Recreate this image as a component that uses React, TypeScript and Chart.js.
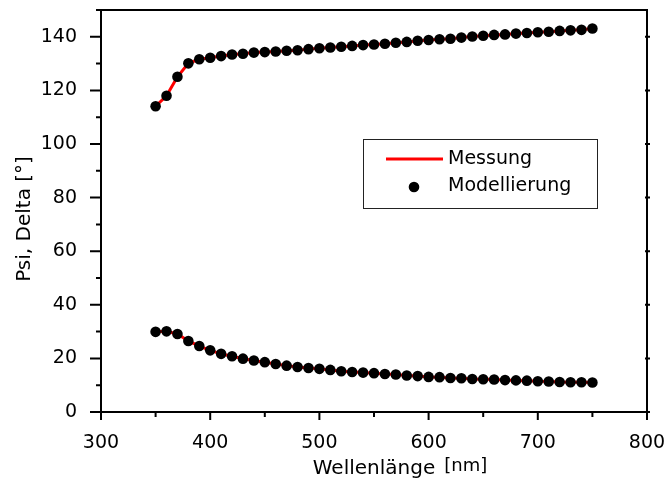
import React, { useEffect, useRef } from "react";
import { Chart, registerables } from "chart.js";

Chart.register(...registerables);

const WAVELENGTHS: number[] = [
  350, 360, 370, 380, 390, 400, 410, 420, 430, 440, 450, 460, 470, 480, 490, 500,
  510, 520, 530, 540, 550, 560, 570, 580, 590, 600, 610, 620, 630, 640, 650, 660,
  670, 680, 690, 700, 710, 720, 730, 740, 750,
];

const DELTA: number[] = [
  114.1, 118.0, 125.1, 130.1, 131.6, 132.2, 132.8, 133.4, 133.7, 134.1, 134.3, 134.5,
  134.8, 135.0, 135.4, 135.7, 136.0, 136.3, 136.6, 136.9, 137.1, 137.4, 137.8, 138.1,
  138.5, 138.8, 139.1, 139.3, 139.7, 140.1, 140.4, 140.7, 140.9, 141.2, 141.4, 141.7,
  141.9, 142.2, 142.4, 142.6, 143.1,
];

const PSI: number[] = [
  29.9, 30.1, 29.1, 26.5, 24.6, 23.0, 21.7, 20.8, 19.9, 19.2, 18.6, 17.9, 17.3, 16.8,
  16.4, 16.1, 15.7, 15.2, 14.9, 14.7, 14.5, 14.2, 14.0, 13.6, 13.4, 13.1, 13.0, 12.7,
  12.6, 12.3, 12.2, 12.1, 11.9, 11.8, 11.7, 11.5, 11.4, 11.2, 11.1, 11.1, 11.0,
];

const X_TICKS: number[] = [300, 400, 500, 600, 700, 800];
const X_MINOR: number[] = [350, 450, 550, 650, 750];
const Y_TICKS: number[] = [0, 20, 40, 60, 80, 100, 120, 140];
const Y_MINOR: number[] = [10, 30, 50, 70, 90, 110, 130, 150];

const LEGEND_LABELS: string[] = ["Messung", "Modellierung"];
const X_TITLE_MAIN = "Wellenlänge";
const X_TITLE_UNIT = "[nm]";
const Y_TITLE = "Psi, Delta [°]";

const FONT = "'DejaVu Sans', sans-serif";

const toPts = (ys: number[]) => WAVELENGTHS.map((x, i) => ({ x, y: ys[i] }));

const framePlugin = {
  id: "frameTicks",
  afterDraw(chart: any) {
    const ctx = chart.ctx;
    const { left, right, top, bottom } = chart.chartArea;
    const xs = chart.scales.x;
    const ys = chart.scales.y;
    ctx.save();
    ctx.strokeStyle = "#000";
    ctx.lineWidth = 2;
    ctx.beginPath();
    ctx.rect(left, top, right - left, bottom - top);
    ctx.stroke();
    ctx.beginPath();
    X_TICKS.forEach((v) => {
      const p = xs.getPixelForValue(v);
      ctx.moveTo(p, bottom);
      ctx.lineTo(p, bottom + 8);
    });
    X_MINOR.forEach((v) => {
      const p = xs.getPixelForValue(v);
      ctx.moveTo(p, bottom);
      ctx.lineTo(p, bottom + 5);
    });
    Y_TICKS.forEach((v) => {
      const p = ys.getPixelForValue(v);
      ctx.moveTo(left, p);
      ctx.lineTo(left - 11, p);
    });
    Y_MINOR.forEach((v) => {
      const p = ys.getPixelForValue(v);
      ctx.moveTo(left, p);
      ctx.lineTo(left - 5, p);
    });
    Y_TICKS.forEach((v) => {
      const p = ys.getPixelForValue(v);
      ctx.moveTo(right - 2, p);
      ctx.lineTo(right + 3, p);
    });
    ctx.stroke();

    // axis titles
    ctx.fillStyle = "#000";
    ctx.textBaseline = "alphabetic";
    ctx.textAlign = "left";
    ctx.font = `20px ${FONT}`;
    const mainW = ctx.measureText(X_TITLE_MAIN).width;
    ctx.font = `18px ${FONT}`;
    const unitW = ctx.measureText(X_TITLE_UNIT).width;
    const gap = 9;
    const tx = 400 - (mainW + gap + unitW) / 2;
    ctx.font = `20px ${FONT}`;
    ctx.fillText(X_TITLE_MAIN, tx, 474);
    ctx.font = `18px ${FONT}`;
    ctx.fillText(X_TITLE_UNIT, tx + mainW + gap, 471);

    ctx.save();
    ctx.translate(30, 219);
    ctx.rotate(-Math.PI / 2);
    ctx.font = `20px ${FONT}`;
    ctx.textAlign = "center";
    ctx.fillText(Y_TITLE, 0, 0);
    ctx.restore();

    // legend box
    const bx = 363;
    const by = 139;
    ctx.lineWidth = 1;
    ctx.strokeStyle = "#222";
    ctx.strokeRect(bx + 0.5, by + 0.5, 234, 69);
    ctx.strokeStyle = "#ff0000";
    ctx.lineWidth = 3;
    ctx.beginPath();
    ctx.moveTo(bx + 23, by + 20);
    ctx.lineTo(bx + 80, by + 20);
    ctx.stroke();
    ctx.fillStyle = "#000";
    ctx.beginPath();
    ctx.arc(bx + 51, by + 48, 5.3, 0, Math.PI * 2);
    ctx.fill();
    ctx.font = `19px ${FONT}`;
    ctx.textBaseline = "middle";
    ctx.textAlign = "left";
    ctx.fillText(LEGEND_LABELS[0], bx + 85, by + 20);
    ctx.fillText(LEGEND_LABELS[1], bx + 85, by + 47);
    ctx.restore();
  },
};

export default function App() {
  const ref = useRef<HTMLCanvasElement | null>(null);
  useEffect(() => {
    if (!ref.current) return;
    const chart = new Chart(ref.current, {
      type: "scatter",
      data: {
        datasets: [
          {
            label: LEGEND_LABELS[0],
            data: toPts(DELTA),
            showLine: true,
            borderColor: "#ff0000",
            borderWidth: 3,
            pointRadius: 0,
            order: 2,
          },
          {
            label: LEGEND_LABELS[0],
            data: toPts(PSI),
            showLine: true,
            borderColor: "#ff0000",
            borderWidth: 3,
            pointRadius: 0,
            order: 2,
          },
          {
            label: LEGEND_LABELS[1],
            data: toPts(DELTA),
            showLine: false,
            pointRadius: 5.3,
            pointBackgroundColor: "#000",
            pointBorderWidth: 0,
            borderColor: "#000",
            order: 1,
          },
          {
            label: LEGEND_LABELS[1],
            data: toPts(PSI),
            showLine: false,
            pointRadius: 5.3,
            pointBackgroundColor: "#000",
            pointBorderWidth: 0,
            borderColor: "#000",
            order: 1,
          },
        ],
      },
      options: {
        responsive: false,
        animation: false,
        layout: { padding: { top: 10, right: 18, left: 0, bottom: 0 } },
        plugins: { legend: { display: false }, tooltip: { enabled: false } },
        scales: {
          x: {
            type: "linear",
            min: 300,
            max: 800,
            grid: { display: false },
            border: { display: false },
            afterBuildTicks: (s: any) => {
              s.ticks = X_TICKS.map((v) => ({ value: v }));
            },
            afterFit: (s: any) => {
              s.height = 74;
              s.paddingLeft = 0;
              s.paddingRight = 0;
            },
            ticks: {
              color: "#000",
              font: { family: FONT, size: 19 },
              padding: 12,
              maxRotation: 0,
              callback: (v: any) => String(v),
            },
          },
          y: {
            type: "linear",
            min: 0,
            max: 150,
            grid: { display: false },
            border: { display: false },
            afterBuildTicks: (s: any) => {
              s.ticks = Y_TICKS.map((v) => ({ value: v }));
            },
            afterFit: (s: any) => {
              s.width = 101;
              s.paddingTop = 0;
              s.paddingBottom = 0;
            },
            ticks: {
              color: "#000",
              font: { family: FONT, size: 19 },
              padding: 16,
              callback: (v: any) => String(v),
            },
          },
        },
      },
      plugins: [framePlugin],
    });
    return () => chart.destroy();
  }, []);
  return (
    <div style={{ position: "fixed", left: 0, top: 0, width: 665, height: 486, background: "#fff" }}>
      <canvas ref={ref} width={665} height={486} style={{ display: "block" }} />
    </div>
  );
}
